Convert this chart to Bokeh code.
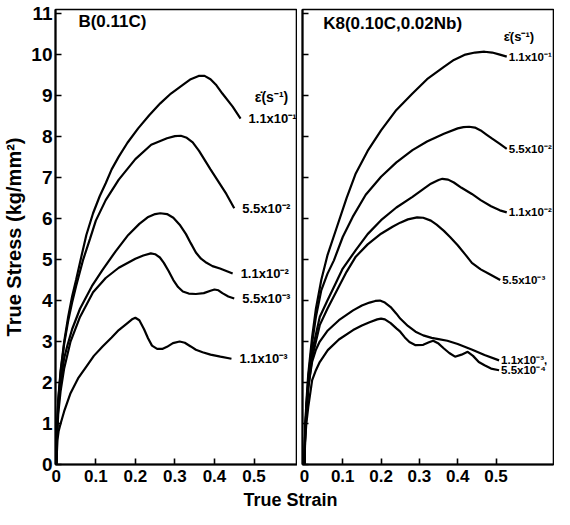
from bokeh.plotting import figure
from bokeh.layouts import column, row
from bokeh.models import FixedTicker, CustomJSTickFormatter, Range1d, Label, LabelSet, ColumnDataSource
from bokeh.core.properties import value
from bokeh.embed import file_html
from bokeh.resources import INLINE

FONT = "Liberation Sans"

# ---- data: panel B(0.11C) ----
b_rates = ["1.1x10⁻¹", "5.5x10⁻²", "1.1x10⁻²", "5.5x10⁻³", "1.1x10⁻³"]
b1_strain = [0, 0.002, 0.005, 0.011, 0.02, 0.03, 0.04, 0.05, 0.064, 0.076, 0.093, 0.11, 0.125, 0.14, 0.158, 0.18, 0.207, 0.235, 0.263, 0.29, 0.32, 0.34, 0.36, 0.375, 0.39, 0.405, 0.42, 0.446, 0.466]
b1_stress = [0, 0.9, 1.6, 2.3, 3.0, 3.6, 4.1, 4.5, 5.1, 5.6, 6.13, 6.55, 6.86, 7.2, 7.51, 7.85, 8.2, 8.52, 8.81, 9.05, 9.26, 9.4, 9.48, 9.48, 9.4, 9.25, 9.05, 8.73, 8.44]
b2_strain = [0, 0.002, 0.005, 0.011, 0.02, 0.03, 0.04, 0.05, 0.068, 0.085, 0.1, 0.125, 0.158, 0.2, 0.24, 0.28, 0.3, 0.315, 0.33, 0.345, 0.361, 0.39, 0.43, 0.45]
b2_stress = [0, 0.9, 1.55, 2.25, 2.95, 3.5, 3.95, 4.35, 5.0, 5.5, 5.95, 6.45, 6.95, 7.45, 7.8, 7.96, 8.01, 8.02, 7.97, 7.86, 7.65, 7.2, 6.6, 6.25]
b3_strain = [0, 0.002, 0.005, 0.011, 0.02, 0.028, 0.04, 0.06, 0.09, 0.117, 0.15, 0.182, 0.21, 0.231, 0.25, 0.263, 0.28, 0.296, 0.312, 0.328, 0.34, 0.353, 0.366, 0.38, 0.395, 0.414, 0.446]
b3_stress = [0, 0.8, 1.4, 2.0, 2.6, 2.9, 3.3, 3.8, 4.35, 4.75, 5.2, 5.6, 5.87, 6.03, 6.11, 6.13, 6.11, 6.02, 5.85, 5.62, 5.4, 5.17, 5.02, 4.92, 4.84, 4.78, 4.66]
b4_strain = [0, 0.002, 0.005, 0.011, 0.02, 0.036, 0.06, 0.093, 0.125, 0.158, 0.2, 0.22, 0.239, 0.25, 0.262, 0.272, 0.284, 0.296, 0.308, 0.32, 0.335, 0.353, 0.373, 0.39, 0.4, 0.41, 0.42, 0.435, 0.45]
b4_stress = [0, 0.7, 1.25, 1.8, 2.35, 3.0, 3.6, 4.2, 4.55, 4.8, 5.02, 5.1, 5.15, 5.13, 5.05, 4.92, 4.72, 4.5, 4.33, 4.22, 4.17, 4.16, 4.18, 4.24, 4.27, 4.25, 4.18, 4.1, 4.05]
b5_strain = [0, 0.003, 0.006, 0.011, 0.02, 0.036, 0.055, 0.076, 0.095, 0.117, 0.14, 0.158, 0.18, 0.193, 0.2, 0.21, 0.222, 0.232, 0.242, 0.255, 0.268, 0.28, 0.295, 0.312, 0.325, 0.34, 0.353, 0.37, 0.39, 0.415, 0.443]
b5_stress = [0, 0.6, 0.82, 1.0, 1.3, 1.74, 2.1, 2.39, 2.65, 2.88, 3.1, 3.28, 3.45, 3.55, 3.58, 3.52, 3.3, 3.08, 2.9, 2.82, 2.82, 2.87, 2.96, 3.0, 2.97, 2.88, 2.8, 2.74, 2.68, 2.63, 2.58]

# ---- data: panel K8(0.10C,0.02Nb) ----
k_rates = ["1.1x10⁻¹", "5.5x10⁻²", "1.1x10⁻²", "5.5x10⁻³", "1.1x10⁻³,", "5.5x10⁻⁴"]
k1_strain = [0, 0.002, 0.005, 0.01, 0.02, 0.03, 0.044, 0.06, 0.085, 0.11, 0.134, 0.165, 0.2, 0.24, 0.282, 0.32, 0.364, 0.39, 0.42, 0.445, 0.47, 0.49, 0.51, 0.528]
k1_stress = [0, 0.9, 1.5, 2.2, 3.1, 3.8, 4.5, 5.1, 5.8, 6.5, 7.1, 7.65, 8.15, 8.65, 9.05, 9.4, 9.7, 9.87, 10.0, 10.05, 10.07, 10.05, 10.0, 9.95]
k2_strain = [0, 0.002, 0.005, 0.01, 0.02, 0.03, 0.044, 0.06, 0.077, 0.1, 0.126, 0.16, 0.2, 0.24, 0.282, 0.32, 0.364, 0.4, 0.415, 0.43, 0.445, 0.46, 0.475, 0.49, 0.51, 0.528]
k2_stress = [0, 0.85, 1.4, 2.1, 2.95, 3.6, 4.25, 4.65, 4.98, 5.55, 6.04, 6.58, 7.02, 7.37, 7.67, 7.88, 8.07, 8.2, 8.23, 8.24, 8.22, 8.15, 8.05, 7.95, 7.82, 7.7]
k3_strain = [0, 0.002, 0.005, 0.01, 0.02, 0.04, 0.06, 0.077, 0.1, 0.134, 0.165, 0.2, 0.24, 0.282, 0.31, 0.33, 0.35, 0.36, 0.375, 0.39, 0.41, 0.437, 0.46, 0.487, 0.51, 0.528]
k3_stress = [0, 0.8, 1.3, 1.95, 2.75, 3.6, 4.0, 4.33, 4.78, 5.23, 5.62, 5.96, 6.27, 6.53, 6.72, 6.85, 6.94, 6.97, 6.95, 6.88, 6.75, 6.6, 6.45, 6.3, 6.2, 6.15]
k4_strain = [0, 0.002, 0.005, 0.01, 0.02, 0.04, 0.06, 0.085, 0.11, 0.134, 0.165, 0.2, 0.23, 0.25, 0.27, 0.294, 0.31, 0.33, 0.345, 0.364, 0.38, 0.4, 0.42, 0.437, 0.46, 0.48, 0.511]
k4_stress = [0, 0.7, 1.2, 1.85, 2.6, 3.4, 3.8, 4.25, 4.7, 5.07, 5.37, 5.63, 5.8, 5.9, 5.98, 6.03, 6.02, 5.95, 5.85, 5.7, 5.55, 5.35, 5.12, 4.92, 4.76, 4.66, 4.5]
k5_strain = [0, 0.002, 0.005, 0.01, 0.02, 0.03, 0.04, 0.061, 0.09, 0.127, 0.15, 0.17, 0.185, 0.197, 0.21, 0.225, 0.24, 0.25, 0.27, 0.29, 0.31, 0.332, 0.35, 0.373, 0.4, 0.438, 0.47, 0.508]
k5_stress = [0, 0.8, 1.3, 1.9, 2.5, 2.8, 3.0, 3.27, 3.52, 3.76, 3.88, 3.95, 3.99, 4.0, 3.95, 3.84, 3.68, 3.56, 3.38, 3.24, 3.15, 3.09, 3.06, 3.02, 2.94, 2.8, 2.67, 2.54]
k6_strain = [0, 0.002, 0.005, 0.01, 0.02, 0.03, 0.04, 0.061, 0.09, 0.127, 0.15, 0.17, 0.19, 0.2, 0.21, 0.225, 0.24, 0.25, 0.262, 0.274, 0.29, 0.31, 0.325, 0.336, 0.35, 0.364, 0.378, 0.393, 0.41, 0.426, 0.44, 0.455, 0.47, 0.487, 0.508]
k6_stress = [0, 0.6, 1.0, 1.4, 2.05, 2.3, 2.5, 2.79, 3.05, 3.28, 3.39, 3.47, 3.54, 3.56, 3.54, 3.45, 3.32, 3.24, 3.1, 2.99, 2.91, 2.92, 2.98, 3.02, 2.95, 2.83, 2.72, 2.63, 2.68, 2.75, 2.65, 2.5, 2.42, 2.34, 2.3]

x_ticks = [0, 0.1, 0.2, 0.3, 0.4, 0.5]
y_ticks = list(range(0, 12))

b_curves = [(b1_strain, b1_stress), (b2_strain, b2_stress), (b3_strain, b3_stress),
            (b4_strain, b4_stress), (b5_strain, b5_stress)]
k_curves = [(k1_strain, k1_stress), (k2_strain, k2_stress), (k3_strain, k3_stress),
            (k4_strain, k4_stress), (k5_strain, k5_stress), (k6_strain, k6_stress)]

fmt = CustomJSTickFormatter(code="return tick == 0 ? '0' : tick.toFixed(1);")


def style(p, show_ylabels):
    p.grid.visible = False
    p.outline_line_color = "black"
    p.outline_line_width = 1.6
    p.background_fill_color = "white"
    p.border_fill_color = "white"
    for ax in (p.xaxis[0], p.yaxis[0]):
        ax.axis_line_width = 2
        ax.major_tick_line_width = 1.6
        ax.major_tick_in = 6
        ax.major_tick_out = 0
        ax.minor_tick_line_color = None
        ax.major_label_text_font = FONT
        ax.major_label_text_font_style = "bold"
        ax.major_label_text_color = "black"
    p.xaxis.ticker = FixedTicker(ticks=x_ticks)
    p.xaxis.formatter = fmt
    p.xaxis.major_label_text_font_size = "17px"
    p.xaxis.major_label_standoff = 5
    p.yaxis.ticker = FixedTicker(ticks=y_ticks)
    if show_ylabels:
        p.yaxis.major_label_text_font_size = "19px"
        p.yaxis.major_label_standoff = 3
    else:
        p.yaxis.major_label_text_font_size = "0px"
        p.yaxis.major_label_text_color = None
        p.yaxis.major_label_standoff = 0


TOP_H = 490
left = figure(width=297, height=TOP_H, x_range=Range1d(-0.002, 0.61), y_range=Range1d(0, 11.1),
              output_backend="svg", toolbar_location=None,
              min_border_left=49, min_border_right=0, min_border_top=9, min_border_bottom=26)
style(left, True)
left.yaxis.axis_label = "True Stress (kg/mm²)"
left.yaxis.axis_label_text_font = FONT
left.yaxis.axis_label_text_font_style = "bold"
left.yaxis.axis_label_text_font_size = "20px"
left.yaxis.axis_label_text_color = "black"
left.yaxis.axis_label_standoff = 3

right = figure(width=257, height=TOP_H, x_range=Range1d(-0.005, 0.65), y_range=Range1d(0, 11.1),
               output_backend="svg", toolbar_location=None,
               min_border_left=5, min_border_right=1, min_border_top=9, min_border_bottom=26)
style(right, False)

for (xs, ys) in b_curves:
    left.line(xs, ys, line_color="black", line_width=2.2)
for (xs, ys) in k_curves:
    right.line(xs, ys, line_color="black", line_width=2.2)

# curve-end labels
b_src = ColumnDataSource(dict(x=[c[0][-1] for c in b_curves], y=[c[1][-1] for c in b_curves], t=b_rates))
left.add_layout(LabelSet(x="x", y="y", text="t", source=b_src, x_offset=8, text_baseline="middle",
                         text_font=value(FONT), text_font_style="bold", text_font_size="13px",
                         text_color="black"))
k_src = ColumnDataSource(dict(x=[c[0][-1] for c in k_curves], y=[c[1][-1] for c in k_curves], t=k_rates))
right.add_layout(LabelSet(x="x", y="y", text="t", source=k_src, x_offset=2, text_baseline="middle",
                          text_font=value(FONT), text_font_style="bold", text_font_size="11.5px",
                          text_color="black"))

left.text(x=[0.502], y=[8.97], text=["ε̇(s⁻¹)"], text_baseline="middle",
          text_font=value(FONT), text_font_style="bold", text_font_size="14px", text_color="black")
right.text(x=[0.52], y=[10.44], text=["ε̇(s⁻¹)"], text_baseline="middle",
           text_font=value(FONT), text_font_style="bold", text_font_size="13px", text_color="black")

left.text(x=[0.056], y=[10.8], text=["B(0.11C)"], text_baseline="middle",
          text_font=value(FONT), text_font_style="bold", text_font_size="17px", text_color="black")
right.text(x=[0.049], y=[10.75], text=["K8(0.10C,0.02Nb)"], text_baseline="middle",
           text_font=value(FONT), text_font_style="bold", text_font_size="17px", text_color="black")

BOT_H = 19
bottom = figure(width=554, height=BOT_H, x_range=Range1d(0, 554), y_range=Range1d(0, BOT_H),
                output_backend="svg", toolbar_location=None,
                min_border=0, outline_line_color=None)
bottom.axis.visible = False
bottom.grid.visible = False
bottom.add_layout(Label(x=290, y=BOT_H / 2, x_units="screen", y_units="screen", text="True Strain",
                        text_align="center", text_baseline="middle", text_font=FONT,
                        text_font_style="bold", text_font_size="18px", text_color="black"))

layout = column(row(left, right, spacing=0), bottom, spacing=0)
open("out.html", "w").write(file_html(layout, INLINE))
